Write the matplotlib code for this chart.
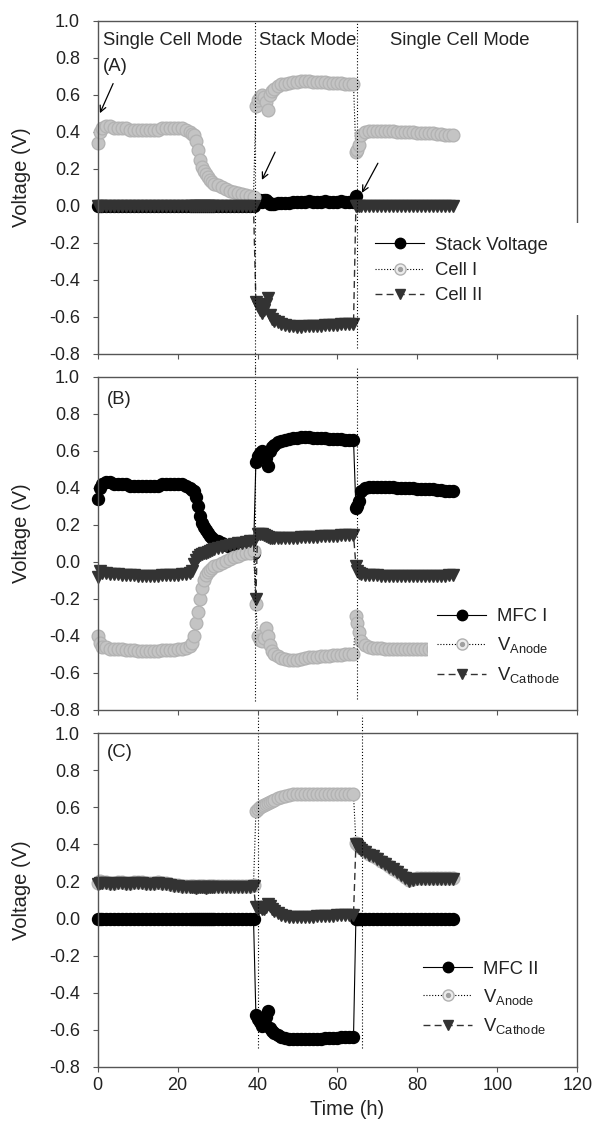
import numpy as np
import matplotlib
matplotlib.use("Agg")
import matplotlib.pyplot as plt
from matplotlib.legend_handler import HandlerTuple
from matplotlib.lines import Line2D
from matplotlib.patches import Rectangle
from matplotlib.ticker import MultipleLocator, FormatStrFormatter

plt.rcParams["font.family"] = ["Liberation Sans", "DejaVu Sans"]
plt.rcParams["mathtext.fontset"] = "custom"
plt.rcParams["mathtext.rm"] = "Liberation Sans"
plt.rcParams["mathtext.it"] = "Liberation Sans:italic"
plt.rcParams["axes.unicode_minus"] = False

# ---------------------------------------------------------------- data
# sampling times (h): single-cell period, stacked period, single-cell period
t_single_1 = [0, 0.5, 1, 2, 3, 4, 5, 6, 7, 8, 9, 10, 11, 12, 13, 14, 15, 16, 17,
              18, 19, 20, 21, 22, 23, 23.5, 24, 24.5, 25, 25.5, 26, 26.5, 27,
              27.5, 28, 28.5, 29, 30, 31, 32, 33, 34, 35, 36, 37, 38, 39]
t_stack = [39.6, 40, 40.5, 41, 41.5, 42, 42.5, 43, 43.5, 44, 45, 46, 47, 48, 49,
           50, 51, 52, 53, 54, 55, 56, 57, 58, 59, 60, 61, 62, 63, 64]
t_single_2 = [64.6, 65, 65.5, 66, 67, 68, 69, 70, 71, 72, 73, 74, 75, 76, 77, 78,
              79, 80, 81, 82, 83, 84, 85, 86, 87, 88, 89]

# stack voltage (V)
stack_voltage = (
    [0.0, 0.0,
     0.0, 0.0, 0.0, 0.0, 0.0, 0.0, 0.0, 0.0, 0.0, 0.0, 0.0, 0.0, 0.0, 0.0, 0.0,
     0.0, 0.0, 0.0, 0.0, 0.0, 0.0, 0.0,
     0.0, 0.0, 0.0, 0.0, 0.0, 0.0, 0.0, 0.0, 0.0, 0.0, 0.0, 0.0, 0.0,
     0.0, 0.0, 0.0, 0.0, 0.0, 0.0, 0.0, 0.0, 0.0, 0.0]
    + [0.02, 0.03, 0.03, 0.02, 0.03, 0.03, 0.02, 0.01, 0.01, 0.01,
       0.015, 0.015, 0.015, 0.015, 0.02, 0.018, 0.023, 0.023, 0.025, 0.02,
       0.02, 0.02, 0.025, 0.02, 0.02, 0.02, 0.025, 0.02, 0.02, 0.02]
    + [0.055, None, None, None, None, None, None, None, None, None, None, None,
       None, None, None, None, None, None, None, None, None, None, None, None,
       None, None, None]
)

# cell I (= MFC I) voltage (V)
cell_1 = (
    [0.34, 0.40,
     0.42, 0.43, 0.43, 0.42, 0.42, 0.42, 0.42, 0.41, 0.41, 0.41, 0.41, 0.41,
     0.41, 0.41, 0.41, 0.42, 0.42, 0.42, 0.42, 0.42, 0.42, 0.41,
     0.40, 0.39, 0.38, 0.35, 0.30, 0.25, 0.21, 0.19, 0.17, 0.155, 0.14, 0.13,
     0.12,
     0.11, 0.10, 0.09, 0.08, 0.075, 0.07, 0.065, 0.06, 0.055, 0.05]
    + [0.54, 0.57, 0.59, 0.60, 0.59, 0.56, 0.52, 0.60, 0.62, 0.63,
       0.645, 0.655, 0.66, 0.665, 0.67, 0.67, 0.675, 0.675, 0.675, 0.67,
       0.67, 0.67, 0.67, 0.665, 0.665, 0.665, 0.665, 0.66, 0.66, 0.66]
    + [0.29, 0.30, 0.33,
       0.38, 0.40, 0.405, 0.405, 0.405, 0.405, 0.405, 0.405, 0.405, 0.40, 0.40,
       0.40, 0.40, 0.40, 0.395, 0.395, 0.395, 0.395, 0.395, 0.39, 0.39, 0.385,
       0.385, 0.38]
)

# cell II (= MFC II) voltage (V)
cell_2 = (
    [0.0, 0.0,
     0.0, 0.0, 0.0, 0.0, 0.0, 0.0, 0.0, 0.0, 0.0, 0.0, 0.0, 0.0, 0.0, 0.0, 0.0,
     0.0, 0.0, 0.0, 0.0, 0.0, 0.0, 0.0,
     0.0, 0.0, 0.0, 0.0, 0.0, 0.0, 0.0, 0.0, 0.0, 0.0, 0.0, 0.0, 0.0,
     0.0, 0.0, 0.0, 0.0, 0.0, 0.0, 0.0, 0.0, 0.0, 0.0]
    + [-0.52, -0.54, -0.56, -0.58, -0.56, -0.53, -0.50, -0.59, -0.61, -0.62,
       -0.63, -0.64, -0.645, -0.65, -0.65, -0.652, -0.652, -0.65, -0.65, -0.65,
       -0.65, -0.65, -0.645, -0.645, -0.645, -0.645, -0.64, -0.64, -0.64, -0.64]
    + [0.0, 0.0, 0.0,
       0.0, 0.0, 0.0, 0.0, 0.0, 0.0, 0.0, 0.0, 0.0, 0.0, 0.0, 0.0, 0.0, 0.0,
       0.0, 0.0, 0.0, 0.0, 0.0, 0.0, 0.0, 0.0, 0.0, 0.0]
)

# MFC I electrode potentials (V)
mfc1_anode = (
    [-0.40, -0.44,
     -0.46, -0.46, -0.47, -0.47, -0.47, -0.47, -0.475, -0.475, -0.475, -0.48,
     -0.48, -0.48, -0.48, -0.48, -0.48, -0.475, -0.475, -0.475, -0.475, -0.47,
     -0.47, -0.465,
     -0.455, -0.44, -0.40, -0.33, -0.27, -0.20, -0.14, -0.10, -0.07, -0.055,
     -0.045, -0.035, -0.025,
     -0.015, -0.005, 0.005, 0.015, 0.025, 0.03, 0.04, 0.045, 0.05, 0.06]
    + [-0.23, -0.40, -0.42, -0.43, -0.41, -0.36, -0.40, -0.45, -0.48, -0.50,
       -0.51, -0.52, -0.525, -0.53, -0.53, -0.53, -0.525, -0.52, -0.515, -0.515,
       -0.515, -0.51, -0.51, -0.51, -0.505, -0.505, -0.505, -0.50, -0.50, -0.50]
    + [-0.29, -0.33, -0.38,
       -0.43, -0.45, -0.46, -0.465, -0.465, -0.465, -0.47, -0.47, -0.47, -0.47,
       -0.47, -0.47, -0.47, -0.47, -0.47, -0.47, -0.47, -0.47, -0.47, -0.47,
       -0.47, -0.47, -0.47, -0.47]
)
mfc1_cathode = (
    [-0.08, -0.05,
     -0.06, -0.06, -0.065, -0.065, -0.065, -0.07, -0.07, -0.07, -0.07, -0.075,
     -0.075, -0.075, -0.075, -0.075, -0.075, -0.07, -0.07, -0.07, -0.07, -0.07,
     -0.065, -0.065,
     -0.06, -0.05, -0.01, 0.01, 0.025, 0.035, 0.04, 0.045, 0.05, 0.055, 0.06,
     0.065, 0.07,
     0.075, 0.08, 0.085, 0.09, 0.095, 0.10, 0.10, 0.105, 0.11, 0.11]
    + [-0.20, 0.15, 0.15, 0.15, 0.145, 0.14, 0.135, 0.13, 0.13, 0.13,
       0.13, 0.13, 0.13, 0.13, 0.13, 0.13, 0.135, 0.135, 0.135, 0.135,
       0.135, 0.14, 0.14, 0.14, 0.14, 0.14, 0.145, 0.145, 0.145, 0.145]
    + [-0.02, -0.05, -0.06,
       -0.065, -0.07, -0.07, -0.07, -0.07, -0.075, -0.075, -0.075, -0.075,
       -0.075, -0.075, -0.075, -0.075, -0.075, -0.075, -0.075, -0.075, -0.075,
       -0.075, -0.075, -0.075, -0.075, -0.07, -0.07]
)

# MFC II electrode potentials (V)
mfc2_anode = (
    [0.19, 0.20,
     0.195, 0.195, 0.19, 0.19, 0.195, 0.195, 0.19, 0.19, 0.195, 0.195, 0.195,
     0.19, 0.19, 0.19, 0.195, 0.19, 0.19, 0.185, 0.18, 0.18, 0.175, 0.175,
     0.175, 0.175, 0.175, 0.17, 0.175, 0.175, 0.175, 0.175, 0.17, 0.175,
     0.175, 0.175, 0.175,
     0.175, 0.175, 0.175, 0.175, 0.175, 0.175, 0.175, 0.175, 0.175, 0.18]
    + [0.58, 0.59, 0.60, 0.61, 0.615, 0.62, 0.625, 0.63, 0.635, 0.64,
       0.65, 0.655, 0.66, 0.665, 0.67, 0.67, 0.67, 0.672, 0.672, 0.672,
       0.672, 0.672, 0.672, 0.672, 0.672, 0.672, 0.67, 0.67, 0.67, 0.67]
    + [0.41, 0.40, 0.39,
       0.38, 0.365, 0.35, 0.34, 0.325, 0.31, 0.30, 0.285, 0.27, 0.255, 0.24,
       0.225, 0.21, 0.215, 0.22, 0.22, 0.22, 0.22, 0.22, 0.22, 0.22, 0.22,
       0.22, 0.22]
)
mfc2_cathode = (
    [0.185, 0.19,
     0.19, 0.19, 0.185, 0.185, 0.19, 0.19, 0.185, 0.185, 0.19, 0.19, 0.19,
     0.185, 0.185, 0.185, 0.19, 0.185, 0.185, 0.18, 0.175, 0.175, 0.17, 0.17,
     0.17, 0.17, 0.17, 0.165, 0.17, 0.17, 0.17, 0.17, 0.165, 0.17, 0.17,
     0.17, 0.17,
     0.17, 0.17, 0.17, 0.17, 0.17, 0.17, 0.17, 0.17, 0.17, 0.175]
    + [0.06, 0.05, 0.06, 0.05, 0.05, 0.06, 0.08, 0.07, 0.05, 0.04,
       0.03, 0.02, 0.015, 0.01, 0.01, 0.01, 0.01, 0.01, 0.01, 0.01,
       0.012, 0.012, 0.015, 0.015, 0.015, 0.018, 0.018, 0.02, 0.02, 0.02]
    + [0.40, 0.39, 0.38,
       0.37, 0.36, 0.345, 0.335, 0.32, 0.305, 0.295, 0.28, 0.265, 0.25, 0.235,
       0.22, 0.205, 0.21, 0.215, 0.215, 0.215, 0.215, 0.215, 0.215, 0.215,
       0.215, 0.215, 0.215]
)

# mode-switch times (h) marked by dotted lines in each panel
switch_a = [39.4, 64.9]
switch_b = [39.4, 64.8]
switch_c = [40.0, 66.1]

# ---------------------------------------------------------------- styles
time_h = np.array(t_single_1 + t_stack + t_single_2, dtype=float)


def arr(values):
    return np.array(values, dtype=float)


INK = "#222222"
FRAME = "#555555"
style_black = dict(color="black", lw=0.8, ls="-", marker="o", ms=8.6,
                   mfc="black", mec="black", clip_on=False)
style_ring = dict(color="black", lw=0.8, ls=(0, (1, 1.6)), marker="o", ms=9.2,
                  mfc="#c4c4c4", mec="#b2b2b2", mew=0.9, clip_on=False)
style_tri = dict(color="#333333", lw=1.0, ls=(0, (5, 3)), marker="v", ms=8.8,
                 mfc="#333333", mec="#333333", clip_on=False)


def ring_handle():
    outer = Line2D([], [], color="black", lw=0.8, ls=(0, (1, 1.6)), marker="o",
                   ms=8.0, mfc="#ececec", mec="#b0b0b0", mew=1.0)
    dot = Line2D([], [], ls="none", marker="o", ms=2.8, mfc="#a0a0a0",
                 mec="#a0a0a0")
    return (outer, dot)


fig = plt.figure(figsize=(5.92, 11.32), dpi=100)
left, width, height = 0.1647, 0.8108, 0.2945
bottoms = [0.6873, 0.3728, 0.0577]
axes = [fig.add_axes([left, b, width, height]) for b in bottoms]

for ax in axes:
    ax.set_xlim(0, 120)
    ax.set_ylim(-0.8, 1.0)
    ax.xaxis.set_major_locator(MultipleLocator(20))
    ax.yaxis.set_major_locator(MultipleLocator(0.2))
    ax.yaxis.set_major_formatter(FormatStrFormatter("%.1f"))
    for sp in ax.spines.values():
        sp.set_color(FRAME)
        sp.set_linewidth(1.0)
    ax.tick_params(direction="out", length=3.6, width=0.8, color=FRAME,
                   labelsize=13, labelcolor=INK)
    ax.tick_params(axis="y", pad=9)
    ax.tick_params(axis="x", pad=4)
    ax.set_ylabel("Voltage (V)", fontsize=14.5, color=INK)
    ax.yaxis.set_label_coords(-0.138, 0.53)

axes[0].tick_params(labelbottom=False)
axes[1].tick_params(labelbottom=False)
axes[2].set_xlabel("Time (h)", fontsize=14.5, color=INK)
axes[2].xaxis.set_label_coords(0.52, -0.10)

dot_ls = dict(color="black", lw=0.8, ls=(0, (1, 1.8)), clip_on=False, zorder=2.5)

legend_kw = dict(fontsize=13.3, frameon=True, fancybox=False, framealpha=1.0,
                 edgecolor="none", facecolor="white", borderpad=0.5,
                 handlelength=2.65, handletextpad=0.6, borderaxespad=0,
                 numpoints=1, labelcolor=INK,
                 handler_map={tuple: HandlerTuple(ndivide=1, pad=0)})

h_black = Line2D([], [], color="black", lw=0.8, marker="o", ms=7.5,
                 mfc="black", mec="black")
h_tri = Line2D([], [], color="#333333", lw=1.0, ls=(0, (5, 3)), marker="v",
               ms=7.5, mfc="#333333", mec="#333333")

# ---------------------------------------------------------------- panel A
ax = axes[0]
ax.plot(time_h, arr(stack_voltage), **style_black)
ax.plot(time_h, arr(cell_1), **style_ring)
ax.plot(time_h, arr(cell_2), **style_tri)
ax.plot([switch_a[0]] * 2, [-0.9, 1.0], **dot_ls)
ax.plot([switch_a[1]] * 2, [-0.77, 1.0], **dot_ls)
ax.text(1.4, 0.895, "Single Cell Mode", fontsize=13.3, color=INK, va="center")
ax.text(40.4, 0.895, "Stack Mode", fontsize=13.3, color=INK, va="center")
ax.text(73.1, 0.895, "Single Cell Mode", fontsize=13.3, color=INK, va="center")
ax.text(1.4, 0.75, "(A)", fontsize=13.3, color=INK, va="center")
arrow = dict(arrowstyle="->", color="black", lw=0.9, shrinkA=0, shrinkB=0,
             mutation_scale=11)
ax.annotate("", xy=(0.6, 0.50), xytext=(3.9, 0.66), arrowprops=arrow)
ax.annotate("", xy=(41.1, 0.14), xytext=(44.4, 0.29), arrowprops=arrow)
ax.annotate("", xy=(66.1, 0.07), xytext=(70.1, 0.23), arrowprops=arrow)
ax.legend([h_black, ring_handle(), h_tri], ["Stack Voltage", "Cell I", "Cell II"],
          loc="center left", bbox_to_anchor=(0.559, 0.25), labelspacing=0.45,
          **legend_kw)
# white backing of the legend runs over the right frame line
ax.add_patch(Rectangle((0.985, 0.117), 0.03, 0.275, transform=ax.transAxes,
                       fc="white", ec="none", clip_on=False, zorder=6))

# ---------------------------------------------------------------- panel B
ax = axes[1]
ax.plot(time_h, arr(cell_1), **style_black)
ax.plot(time_h, arr(mfc1_anode), **style_ring)
ax.plot(time_h, arr(mfc1_cathode), **style_tri)
ax.plot([switch_b[0]] * 2, [-0.75, 1.05], **dot_ls)
ax.plot([switch_b[1]] * 2, [-0.74, 1.05], **dot_ls)
ax.text(2.4, 0.875, "(B)", fontsize=13.3, color=INK, va="center")
ax.legend([h_black, ring_handle(), h_tri],
          ["MFC I", r"V$_{\mathrm{Anode}}$", r"V$_{\mathrm{Cathode}}$"],
          loc="center left", bbox_to_anchor=(0.689, 0.19), labelspacing=0.55,
          **legend_kw)

# ---------------------------------------------------------------- panel C
ax = axes[2]
ax.plot(time_h, arr(cell_2), **style_black)
ax.plot(time_h, arr(mfc2_anode), **style_ring)
ax.plot(time_h, arr(mfc2_cathode), **style_tri)
ax.plot([switch_c[0]] * 2, [-0.7, 1.1], **dot_ls)
ax.plot([switch_c[1]] * 2, [-0.7, 1.1], **dot_ls)
ax.text(2.4, 0.895, "(C)", fontsize=13.3, color=INK, va="center")
ax.legend([h_black, ring_handle(), h_tri],
          ["MFC II", r"V$_{\mathrm{Anode}}$", r"V$_{\mathrm{Cathode}}$"],
          loc="center left", bbox_to_anchor=(0.659, 0.205), labelspacing=0.5,
          **legend_kw)

fig.savefig("out.png", dpi=100)
